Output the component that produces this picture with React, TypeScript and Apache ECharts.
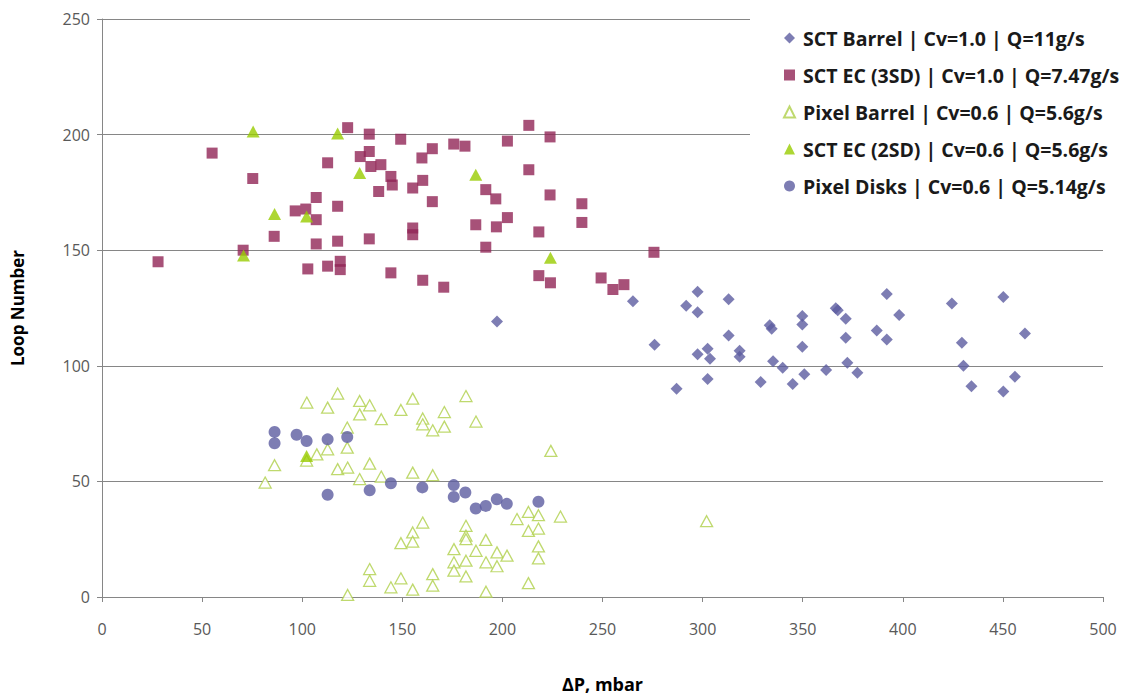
import React, { useEffect, useRef } from "react";
import * as echarts from "echarts";

const sctBarrel: [number, number][] = [
  [197.3, 119.2], [265.2, 127.9], [276, 109.1], [287, 90.1], [291.8, 126], [297.5, 132], [297.5, 123.2],
  [297.5, 105], [302.5, 107.4], [303.7, 103], [302.5, 94.3], [313, 128.8], [313, 113.1], [318.5, 106.5],
  [318.5, 103.9], [329, 93], [333.5, 117.5], [334.5, 116], [335.2, 102], [340, 99.2], [345, 92.1],
  [349.8, 121.5], [349.8, 117.9], [349.8, 108.2], [350.8, 96.3], [361.7, 98.2], [366.5, 124.9],
  [367.5, 124], [371.5, 120.3], [371.5, 112.1], [372.3, 101.3], [377.3, 97], [387, 115.3], [392, 131.1],
  [392, 111.4], [398.2, 122], [424.5, 126.9], [429.5, 110], [430.3, 100], [434.3, 91.2], [450.2, 129.8],
  [450.2, 88.9], [456, 95.3], [461, 114],
];

const sctEc3sd: [number, number][] = [
  [28, 145], [55, 192], [70.5, 150], [75.3, 181], [86, 156], [96.5, 167], [101.8, 167.8], [102.8, 141.9],
  [107, 172.8], [107, 163.2], [107, 152.7], [112.7, 187.8], [112.7, 143.1], [117.7, 169], [117.7, 153.9],
  [119, 145.2], [119, 141.6], [122.7, 203], [129, 190.5], [133.5, 200.2], [133.5, 192.7], [134.3, 186.2],
  [133.5, 154.9], [138.2, 175.4], [139.3, 187], [144.3, 181.9], [145, 178.2], [144.3, 140.2], [149.2, 198],
  [155.2, 176.9], [155.2, 159.6], [155.2, 156.7], [159.8, 189.9], [160.2, 180.2], [160.2, 137], [165, 193.9],
  [165, 171], [170.7, 134], [175.7, 195.9], [181.3, 195], [186.7, 161], [191.7, 176.2], [191.7, 151.3],
  [196.7, 172.2], [197, 160.1], [202.5, 197.2], [202.5, 164.1], [213.2, 204], [213.2, 184.8], [218.2, 157.9],
  [218.2, 139], [223.8, 199], [223.8, 173.9], [224, 135.9], [239.7, 170.1], [239.7, 162], [249.3, 138],
  [255.2, 133], [260.7, 135.1], [275.7, 149.1],
];

const pixelBarrel: [number, number][] = [
  [117.7, 88], [102.3, 84.1], [112.7, 81.9], [128.7, 84.8], [133.7, 82.9], [128.7, 79], [139.5, 76.9],
  [149.3, 80.9], [155.2, 85.8], [160.2, 77.2], [160.2, 74.7], [122.5, 73.3], [122.5, 64.6], [112.7, 63.9],
  [107.3, 61.7], [102.2, 59], [86.2, 57], [81.5, 49.5], [117.7, 55.3], [122.7, 56], [133.7, 57.7],
  [128.7, 51], [139.5, 52.1], [155.2, 53.8], [160.2, 32.2], [155.2, 27.9], [155.2, 23.9], [149.3, 23.3],
  [133.7, 12.1], [133.7, 7], [144.3, 4.2], [149.3, 8.1], [155.2, 3.2], [122.7, 0.9], [165.2, 72.1],
  [171, 80], [171, 73.7], [181.8, 86.9], [186.8, 75.9], [224.2, 63.2], [165.2, 52.7], [181.8, 30.8],
  [181.8, 26.5], [181.8, 25], [175.8, 20.7], [186.8, 20], [191.7, 24.7], [197.3, 19.3], [202.3, 17.9],
  [207.3, 33.7], [213, 36.8], [218, 35.4], [213, 28.6], [218, 29.6], [229, 34.8], [218, 21.9], [218, 16.7],
  [175.8, 15], [175.8, 11.4], [181.8, 15.7], [191.8, 15], [197.3, 13.3], [181.8, 8.9], [165.2, 9.9],
  [165.2, 4.9], [191.8, 2.3], [213, 6], [302, 32.8],
];

const sctEc2sd: [number, number][] = [
  [70.7, 147.7], [75.5, 201.3], [86.2, 165.7], [102.2, 164.6], [102.2, 61], [117.7, 200.5], [128.7, 183.4],
  [186.7, 182.6], [224, 146.7],
];

const pixelDisks: [number, number][] = [
  [86.2, 71.4], [86.2, 66.5], [97.2, 70.2], [102.2, 67.5], [112.7, 68.2], [122.5, 69.2], [112.7, 44.2],
  [133.7, 46.2], [144.3, 49.2], [160, 47.4], [175.7, 48.4], [175.7, 43.3], [181.5, 45.2], [186.7, 38.3],
  [191.7, 39.4], [197.2, 42.3], [202.2, 40.3], [218, 41.2],
];

const seriesNames = [
  "SCT Barrel | Cv=1.0 | Q=11g/s",
  "SCT EC (3SD) | Cv=1.0 | Q=7.47g/s",
  "Pixel Barrel | Cv=0.6 | Q=5.6g/s",
  "SCT EC (2SD) | Cv=0.6 | Q=5.6g/s",
  "Pixel Disks | Cv=0.6 | Q=5.14g/s",
];

const FONT = "'Open Sans', 'Liberation Sans', sans-serif";

export default function App() {
  const ref = useRef<HTMLDivElement>(null);
  useEffect(() => {
    document.body.style.margin = "0";
    if (!ref.current) return;
    const chart = echarts.init(ref.current, undefined, { renderer: "svg" });
    chart.setOption({
      animation: false,
      backgroundColor: "#ffffff",
      grid: { left: 102, right: 27, top: 19, bottom: 100 },
      legend: {
        orient: "vertical",
        left: 750,
        top: 16,
        backgroundColor: "#ffffff",
        padding: [12, 4, 12, 33],
        itemGap: 17,
        itemWidth: 11,
        itemHeight: 11,
        textStyle: {
          fontFamily: FONT,
          fontSize: 19.5,
          fontWeight: "bold",
          color: "#1a1a1a",
          lineHeight: 20,
          padding: [0, 0, 0, 3],
        },
        data: [
          { name: seriesNames[0], icon: "diamond" },
          { name: seriesNames[1], icon: "rect" },
          { name: seriesNames[2], icon: "triangle" },
          { name: seriesNames[3], icon: "triangle" },
          { name: seriesNames[4], icon: "circle" },
        ],
      },
      xAxis: {
        type: "value",
        min: 0,
        max: 500,
        interval: 50,
        name: "ΔP, mbar",
        nameLocation: "middle",
        nameGap: 78,
        nameTextStyle: { fontFamily: FONT, fontSize: 18, fontWeight: "bold", color: "#000" },
        axisLine: { show: true, lineStyle: { color: "#868686", width: 1 } },
        axisTick: { show: true, length: 5, lineStyle: { color: "#868686" } },
        axisLabel: { fontFamily: FONT, fontSize: 16, color: "#595959", margin: 24 },
        splitLine: { show: false },
      },
      yAxis: {
        type: "value",
        min: 0,
        max: 250,
        interval: 50,
        name: "Loop Number",
        nameLocation: "middle",
        nameGap: 76,
        nameRotate: 90,
        nameTextStyle: { fontFamily: FONT, fontSize: 17, fontWeight: "bold", color: "#000" },
        axisLine: { show: true, lineStyle: { color: "#868686", width: 1 } },
        axisTick: { show: true, length: 5, lineStyle: { color: "#868686" } },
        axisLabel: { fontFamily: FONT, fontSize: 16, color: "#595959", margin: 12 },
        splitLine: { show: true, lineStyle: { color: "#868686", width: 1 } },
      },
      series: [
        {
          name: seriesNames[0],
          type: "scatter",
          symbol: "diamond",
          symbolSize: 12,
          itemStyle: { color: "#5C5CA0" },
          data: sctBarrel,
        },
        {
          name: seriesNames[1],
          type: "scatter",
          symbol: "rect",
          symbolSize: 11,
          itemStyle: { color: "#912556" },
          data: sctEc3sd,
        },
        {
          name: seriesNames[2],
          type: "scatter",
          symbol: "triangle",
          symbolSize: [12, 11],
          itemStyle: { color: "#ffffff", borderColor: "#AFCF4A", borderWidth: 1.3 },
          data: pixelBarrel,
        },
        {
          name: seriesNames[3],
          type: "scatter",
          symbol: "triangle",
          symbolSize: [13, 12],
          itemStyle: { color: "#99CC00" },
          data: sctEc2sd,
        },
        {
          name: seriesNames[4],
          type: "scatter",
          symbol: "circle",
          symbolSize: 12,
          itemStyle: { color: "#5C5CA0" },
          data: pixelDisks,
        },
      ],
    });
    return () => chart.dispose();
  }, []);
  return <div ref={ref} style={{ width: 1130, height: 698 }} />;
}
